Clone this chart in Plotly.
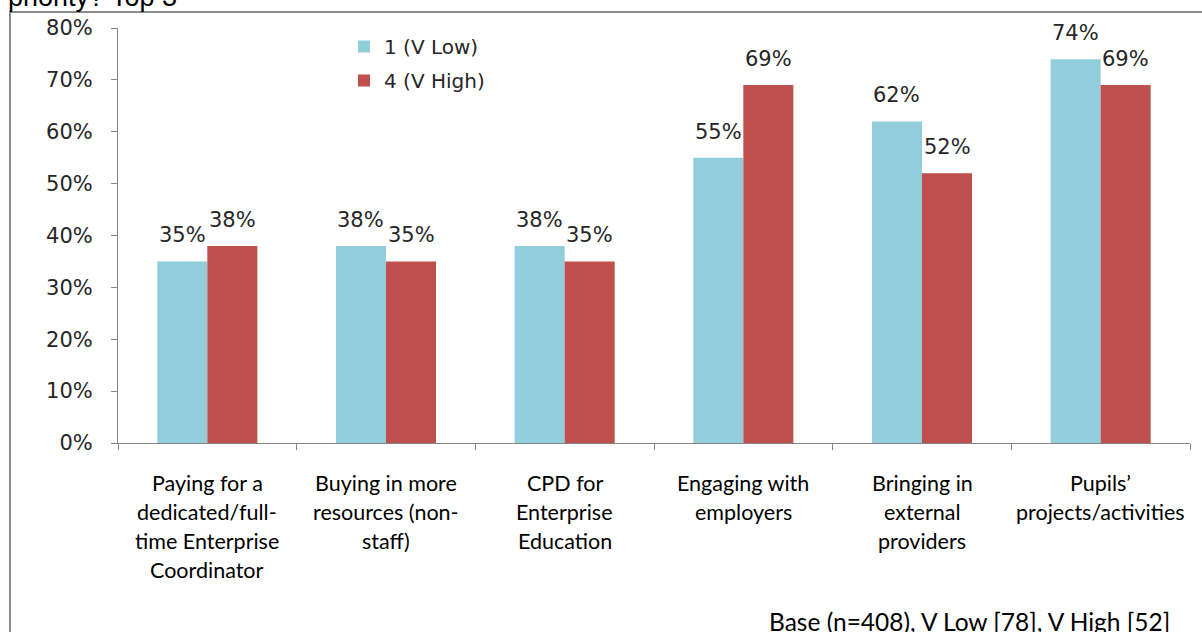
import plotly.graph_objects as go

# Categories, one list of text lines per category label
category_lines = [
    ["Paying for a", "dedicated/full-", "time Enterprise", "Coordinator"],
    ["Buying in more", "resources (non-", "staff)"],
    ["CPD for", "Enterprise", "Education"],
    ["Engaging with", "employers"],
    ["Bringing in", "external", "providers"],
    ["Pupils\u2019", "projects/activities"],
]
categories = [" ".join(lines) for lines in category_lines]

series_names = ["1 (V Low)", "4 (V High)"]
v_low = [0.35, 0.38, 0.38, 0.55, 0.62, 0.74]
v_high = [0.38, 0.35, 0.35, 0.69, 0.52, 0.69]
series_values = [v_low, v_high]
series_colors = ["#92CDDC", "#C0504D"]

y_ticks = [0, 0.1, 0.2, 0.3, 0.4, 0.5, 0.6, 0.7, 0.8]
title_tail = "priority? Top 3"
base_note = "Base (n=408), V Low [78], V High [52]"

W, H = 1202, 632
ML, MR, MT, MB = 118, 12, 28, 189
plot_h = H - MT - MB
plot_w = W - ML - MR
base_px = H - MB  # pixel row of the x axis


def py(pixel_y):
    """Paper y coordinate for a pixel row measured from the page top."""
    return (base_px - pixel_y) / plot_h


def px(pixel_x):
    """Paper x coordinate for a pixel column measured from the page left."""
    return (pixel_x - ML) / plot_w


label_font = dict(family="DejaVu Sans, Verdana, sans-serif", size=21, color="#262626")
cat_font = dict(family="Lato, Carlito, Calibri, sans-serif", size=21.5, color="#000000")
axis_color = "#868686"

fig = go.Figure()
for i, (name, vals, col) in enumerate(zip(series_names, series_values, series_colors)):
    fig.add_trace(go.Bar(
        x=categories, y=vals, name=name,
        marker=dict(color=col, line=dict(width=0)),
        legendgroup=f"g{i}",
        hoverinfo="skip",
    ))

# value labels above each bar
annotations = []
bar_offset = 0.28 * plot_w / len(categories) / 2
for i, vals in enumerate(series_values):
    for c, v in zip(categories, vals):
        annotations.append(dict(
            x=c, y=v, xref="x", yref="y",
            text=f"{round(v * 100):.0f}%",
            showarrow=False, yanchor="bottom", xanchor="center",
            xshift=(-bar_offset if i == 0 else bar_offset), yshift=12,
            font=label_font,
        ))

# multi-line category labels under the axis
line_gap = 29
for c, lines in zip(categories, category_lines):
    for j, line in enumerate(lines):
        annotations.append(dict(
            x=c, y=0, xref="x", yref="paper",
            text=line, showarrow=False,
            xanchor="center", yanchor="middle",
            yshift=-(40 + j * line_gap),
            font=cat_font,
        ))

# heading line running off the top of the page
annotations.append(dict(
    x=px(6), y=py(14), xref="paper", yref="paper",
    text=title_tail, showarrow=False, xanchor="left", yanchor="bottom",
    font=dict(family="Liberation Sans, Arial, sans-serif", size=27, color="#000000"),
))
annotations.append(dict(
    x=px(1172), y=py(605), xref="paper", yref="paper",
    text=base_note, showarrow=False, xanchor="right", yanchor="top",
    font=dict(family="Lato, Carlito, Calibri, sans-serif", size=24.5, color="#000000"),
))

fig.update_layout(
    width=W, height=H,
    margin=dict(l=ML, r=MR, t=MT, b=MB, pad=0),
    paper_bgcolor="white", plot_bgcolor="white",
    barmode="group", bargap=0.44, bargroupgap=0,
    showlegend=True,
    legend=dict(
        x=px(344), y=py(27),
        xanchor="left", yanchor="top",
        font=dict(family="DejaVu Sans, Verdana, sans-serif", size=20, color="#262626"),
        bgcolor="rgba(0,0,0,0)", tracegroupgap=5,
        itemclick=False, itemdoubleclick=False,
    ),
    annotations=annotations,
    shapes=[dict(
        type="rect", xref="paper", yref="paper",
        x0=px(10), x1=1.2,
        y0=-1.0, y1=py(12),
        line=dict(color="#8C8C8C", width=2), fillcolor="rgba(0,0,0,0)",
        layer="below",
    )],
    xaxis=dict(
        type="category", showticklabels=False,
        showline=True, linecolor=axis_color, linewidth=1,
        ticks="outside", tickson="boundaries", ticklen=6, tickcolor=axis_color,
        showgrid=False, zeroline=False, fixedrange=True,
    ),
    yaxis=dict(
        range=[0, 0.8], tickvals=y_ticks, tickformat=".0%",
        showline=True, linecolor=axis_color, linewidth=1,
        ticks="outside", ticklen=6, tickcolor=axis_color,
        tickfont=label_font, ticklabelstandoff=14,
        showgrid=False, zeroline=False, fixedrange=True,
    ),
)

fig.write_html("out.html")
